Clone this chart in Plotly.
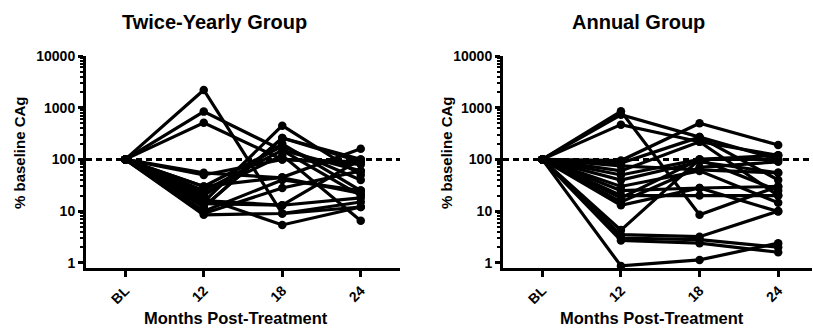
import plotly.graph_objects as go

timepoints = ["BL", "12", "18", "24"]
y_ticks = [1, 10, 100, 1000, 10000]

# Twice-Yearly Group: % baseline CAg at BL, 12, 18, 24 months
twice_yearly = [
    [100, 2200, 9, 12],
    [100, 840, 150, 60],
    [100, 510, 100, 90],
    [100, 15, 450, 50],
    [100, 12, 260, 100],
    [100, 20, 200, 25],
    [100, 25, 150, 20],
    [100, 50, 100, 80],
    [100, 30, 45, 160],
    [100, 9, 28, 60],
    [100, 14, 13, 18],
    [100, 8.5, 9, 15],
    [100, 18, 5.4, 12],
    [100, 22, 120, 6.5],
    [100, 10, 40, 25],
    [100, 16, 13, 100],
    [100, 12, 260, 90],
    [100, 30, 180, 40],
    [100, 55, 44, 22],
]

# Annual Group
annual = [
    [100, 850, 8.5, 30],
    [100, 730, 270, 100],
    [100, 470, 220, 120],
    [100, 95, 500, 190],
    [100, 85, 270, 40],
    [100, 60, 220, 20],
    [100, 50, 100, 120],
    [100, 40, 90, 55],
    [100, 30, 60, 14.5],
    [100, 25, 28, 30],
    [100, 20, 20, 20],
    [100, 18, 100, 100],
    [100, 15, 70, 90],
    [100, 13, 28, 9.8],
    [100, 4.3, 100, 25],
    [100, 3.5, 3.2, 10],
    [100, 2.7, 2.4, 1.6],
    [100, 3.0, 2.8, 2.0],
    [100, 0.87, 1.14, 2.4],
    [100, 75, 63, 55],
]

FONT = "Liberation Sans, Arial, sans-serif"
fig = go.Figure()

xs = list(range(len(timepoints)))
for series, xa, ya in [(twice_yearly, "x", "y"), (annual, "x2", "y2")]:
    for s in series:
        fig.add_trace(go.Scatter(
            x=xs, y=s, xaxis=xa, yaxis=ya, mode="lines+markers",
            line=dict(color="black", width=3.2),
            marker=dict(color="black", size=8.5),
            showlegend=False, hoverinfo="skip"))

H = 330
W = 813
y_dom = [(H - 268) / H, (H - 56) / H]

def xaxis_cfg(d0, d1, anchor, rng):
    return dict(
        domain=[d0 / W, d1 / W], anchor=anchor, range=rng, automargin=False,
        tickvals=xs, ticktext=timepoints, tickangle=-45,
        ticks="outside", ticklen=6, tickwidth=2.5, tickcolor="black",
        showline=True, linecolor="black", linewidth=3,
        showgrid=False, zeroline=False,
        tickfont=dict(family=FONT, size=14, color="black", weight="bold"),
    )

def yaxis_cfg(anchor):
    return dict(
        type="log", domain=y_dom, anchor=anchor, range=[-0.1, 4], automargin=False,
        tickvals=y_ticks, ticktext=[str(v) for v in y_ticks],
        ticks="outside", ticklen=5, tickwidth=2.5, tickcolor="black",
        minor=dict(ticks="outside", ticklen=3, tickwidth=1.5, tickcolor="black",
                   tickvals=[m * 10 ** e for e in range(4) for m in range(2, 10)]),
        showline=True, linecolor="black", linewidth=3,
        showgrid=False, zeroline=False,
        tickfont=dict(family=FONT, size=14, color="black", weight="bold"),
    )

fig.update_layout(
    width=W, height=H, margin=dict(l=0, r=0, t=0, b=0),
    paper_bgcolor="white", plot_bgcolor="white",
    xaxis=xaxis_cfg(86, 400, "y", [-0.5, 3.5]),
    yaxis=yaxis_cfg("x"),
    xaxis2=xaxis_cfg(503, 812, "y2", [-0.5, 3.43]),
    yaxis2=yaxis_cfg("x2"),
)

for xr, yr in [("x", "y"), ("x2", "y2")]:
    fig.add_shape(type="line", xref=xr + " domain", yref=yr, x0=0, x1=1, y0=100, y1=100,
                  line=dict(color="black", width=3, dash="6px,4px"), layer="below")

def ann(text, x, y, size, angle=0):
    fig.add_annotation(text=text, xref="paper", yref="paper", x=x / W, y=1 - y / H,
                       showarrow=False, textangle=angle, xanchor="center", yanchor="middle",
                       font=dict(family=FONT, size=size, color="black", weight="bold"))

ann("Twice-Yearly Group", 214, 22, 20)
ann("Annual Group", 638, 22, 20)
ann("Months Post-Treatment", 236, 318, 16.5)
ann("Months Post-Treatment", 652, 318, 16.5)
ann("% baseline CAg", 19, 153, 15, -90)
ann("% baseline CAg", 446, 153, 15, -90)

fig.write_html(
    "out.html",
    config={"displayModeBar": False},
    post_script="document.body.style.margin='0px';document.body.style.overflow='hidden';",
)
